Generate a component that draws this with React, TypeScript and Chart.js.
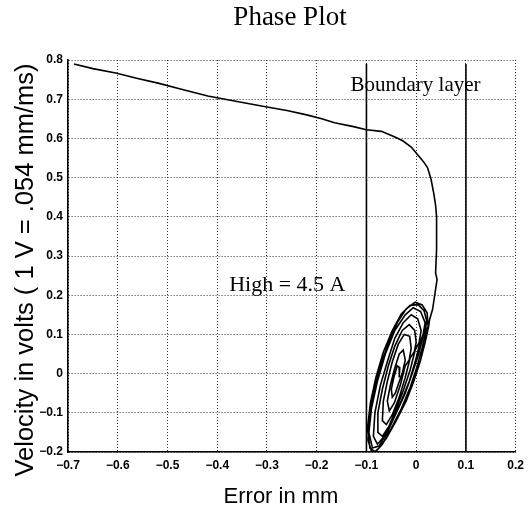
import { useEffect, useRef } from "react";
import { Chart, registerables } from "chart.js";

Chart.register(...registerables);

// ---- data ----
const xRange = [-0.7, 0.2];
const yRange = [-0.2, 0.8];
const tickStep = 0.1;

// approach trajectory from the initial condition into the boundary layer
const approach: [number, number][] = [
  [-0.688, 0.79], [-0.65, 0.778], [-0.604, 0.767], [-0.56, 0.753], [-0.519, 0.741],
  [-0.47, 0.725], [-0.419, 0.708], [-0.36, 0.694], [-0.3, 0.68], [-0.26, 0.671],
  [-0.22, 0.66], [-0.19, 0.65], [-0.164, 0.64], [-0.126, 0.63], [-0.1, 0.622],
  [-0.07, 0.618], [-0.045, 0.605], [-0.027, 0.594], [-0.01, 0.578], [0.003, 0.558],
  [0.015, 0.54], [0.023, 0.525], [0.03, 0.495], [0.035, 0.462], [0.039, 0.43],
  [0.041, 0.4], [0.041, 0.316], [0.039, 0.257], [0.042, 0.24], [0.039, 0.215],
  [0.033, 0.164], [0.027, 0.138],
];

// limit-cycle loops around the sliding surface
const loop1: [number, number][] = [
  [0.025, 0.12], [0.018, 0.08], [0.008, 0.03], [-0.005, -0.02], [-0.02, -0.07],
  [-0.04, -0.12], [-0.06, -0.165], [-0.075, -0.19], [-0.088, -0.205], [-0.097, -0.17],
  [-0.094, -0.11], [-0.085, -0.05], [-0.072, 0.02], [-0.055, 0.08], [-0.038, 0.13],
  [-0.02, 0.165], [-0.002, 0.182], [0.012, 0.175], [0.022, 0.155], [0.024, 0.12],
];
const loop1b: [number, number][] = [
  [0.02, 0.11], [0.012, 0.065], [0.001, 0.015], [-0.012, -0.035], [-0.03, -0.09],
  [-0.05, -0.14], [-0.068, -0.18], [-0.082, -0.2], [-0.093, -0.19], [-0.098, -0.14],
  [-0.092, -0.075], [-0.081, -0.01], [-0.066, 0.055], [-0.048, 0.11], [-0.03, 0.152],
  [-0.012, 0.174], [0.004, 0.176], [0.016, 0.16], [0.021, 0.135], [0.018, 0.105],
];
const loop2: [number, number][] = [
  [0.015, 0.1], [0.005, 0.05], [-0.008, 0.0], [-0.022, -0.05], [-0.04, -0.1],
  [-0.058, -0.15], [-0.075, -0.185], [-0.088, -0.19], [-0.095, -0.15], [-0.09, -0.09],
  [-0.078, -0.02], [-0.062, 0.05], [-0.043, 0.11], [-0.022, 0.15], [-0.006, 0.168],
  [0.009, 0.158], [0.018, 0.13], [0.014, 0.1],
];
const loop3: [number, number][] = [
  [0.008, 0.08], [-0.002, 0.03], [-0.014, -0.02], [-0.03, -0.07], [-0.048, -0.12],
  [-0.064, -0.16], [-0.078, -0.18], [-0.086, -0.16], [-0.083, -0.1], [-0.072, -0.03],
  [-0.058, 0.03], [-0.043, 0.09], [-0.026, 0.13], [-0.01, 0.15], [0.003, 0.14],
  [0.01, 0.11], [0.006, 0.08],
];
const loop4: [number, number][] = [
  [-0.002, 0.06], [-0.012, 0.01], [-0.025, -0.04], [-0.04, -0.09], [-0.055, -0.135],
  [-0.068, -0.16], [-0.077, -0.15], [-0.077, -0.1], [-0.068, -0.04], [-0.056, 0.02],
  [-0.043, 0.07], [-0.028, 0.11], [-0.014, 0.125], [-0.003, 0.11], [0.0, 0.08],
  [-0.004, 0.055],
];
const loop5: [number, number][] = [
  [-0.012, 0.04], [-0.022, -0.01], [-0.034, -0.06], [-0.048, -0.105], [-0.06, -0.13],
  [-0.068, -0.12], [-0.066, -0.07], [-0.058, -0.02], [-0.048, 0.03], [-0.036, 0.075],
  [-0.024, 0.1], [-0.013, 0.095], [-0.01, 0.065], [-0.014, 0.035],
];
const loop6: [number, number][] = [
  [-0.022, 0.02], [-0.032, -0.03], [-0.044, -0.075], [-0.054, -0.095], [-0.058, -0.07],
  [-0.052, -0.03], [-0.044, 0.01], [-0.034, 0.05], [-0.026, 0.06], [-0.022, 0.035],
  [-0.028, 0.0],
];
const loop7: [number, number][] = [
  [-0.034, -0.02], [-0.042, -0.05], [-0.048, -0.06], [-0.05, -0.04], [-0.045, -0.01],
  [-0.038, 0.02], [-0.033, 0.015], [-0.034, -0.01],
];

const boundaryX = [-0.1, 0.1];
const boundaryTop = 0.79;

const titleText = "Phase Plot";
const xTitle = "Error in mm";
const yTitle = "Velocity in volts ( 1 V = .054 mm/ms)";
const notes = [
  { text: "Boundary layer", x: -0.132, y: 0.72 },
  { text: "High = 4.5 A", x: -0.376, y: 0.21 },
];

const toPts = (arr: [number, number][]) => arr.map(([x, y]) => ({ x, y }));

const textPlugin = {
  id: "texts",
  afterDraw(chart: any) {
    const ctx = chart.ctx as CanvasRenderingContext2D;
    const xs = chart.scales.x;
    const ys = chart.scales.y;
    ctx.save();
    ctx.fillStyle = "#000";
    // title
    ctx.font = "27px 'Liberation Serif'";
    ctx.textAlign = "center";
    ctx.textBaseline = "alphabetic";
    ctx.fillText(titleText, 290, 25);
    // x title
    ctx.font = "22px 'Liberation Sans'";
    ctx.fillText(xTitle, 281, 503);
    // y title
    ctx.save();
    ctx.translate(33, 270);
    ctx.rotate(-Math.PI / 2);
    ctx.font = "25.5px 'Liberation Sans'";
    ctx.fillText(yTitle, 0, 0);
    ctx.restore();
    // annotations
    ctx.textAlign = "left";
    ctx.font = "21px 'Liberation Serif'";
    ctx.fillText(notes[0].text, xs.getPixelForValue(notes[0].x), ys.getPixelForValue(notes[0].y));
    ctx.font = "22px 'Liberation Serif'";
    ctx.fillText(notes[1].text, xs.getPixelForValue(notes[1].x), ys.getPixelForValue(notes[1].y));
    ctx.restore();
  },
};

export default function App() {
  const ref = useRef<HTMLCanvasElement>(null);
  useEffect(() => {
    document.body.style.margin = "0";
    const trajectory = [
      ...approach, ...loop1, ...loop1b, ...loop2, ...loop3, ...loop4, ...loop5, ...loop6, ...loop7,
    ];
    const tickFmt = (v: any) => {
      const n = Number(v);
      const r = Math.round(n * 10) / 10;
      if (r === 0) return "0";
      return String(r).replace("-", "\u2212");
    };
    const chart = new Chart(ref.current!, {
      type: "scatter",
      data: {
        datasets: [
          {
            data: toPts(trajectory),
            showLine: true,
            borderColor: "#000",
            borderWidth: 1.6,
            pointRadius: 0,
            tension: 0,
          },
          ...boundaryX.map((bx) => ({
            data: [
              { x: bx, y: yRange[0] },
              { x: bx, y: boundaryTop },
            ],
            showLine: true,
            borderColor: "#000",
            borderWidth: 1.6,
            pointRadius: 0,
          })),
        ],
      },
      options: {
        responsive: false,
        animation: false,
        events: [],
        layout: { padding: { top: 60, right: 11, left: 0, bottom: 0 } },
        plugins: { legend: { display: false }, tooltip: { enabled: false }, title: { display: false } },
        scales: {
          x: {
            type: "linear",
            min: xRange[0],
            max: xRange[1],
            afterFit: (s: any) => {
              s.height = 63;
            },
            ticks: {
              stepSize: tickStep,
              color: "#000",
              font: { family: "'Liberation Sans'", size: 12, weight: "bold" },
              padding: 6,
              maxRotation: 0,
              callback: tickFmt,
            },
            grid: { color: "rgba(0,0,0,0.8)", lineWidth: 1, drawTicks: false },
            border: { display: true, color: "#000", width: 1.6, dash: [1, 2] },
          },
          y: {
            type: "linear",
            min: yRange[0],
            max: yRange[1],
            afterFit: (s: any) => {
              s.width = 68;
            },
            ticks: {
              stepSize: tickStep,
              color: "#000",
              font: { family: "'Liberation Sans'", size: 12, weight: "bold" },
              padding: 5,
              callback: tickFmt,
            },
            grid: { color: "rgba(0,0,0,0.8)", lineWidth: 1, drawTicks: false },
            border: { display: true, color: "#000", width: 1.6, dash: [1, 2] },
          },
        },
      },
      plugins: [textPlugin],
    });
    return () => chart.destroy();
  }, []);
  return (
    <div style={{ width: 530, height: 515, background: "#fff" }}>
      <canvas ref={ref} width={530} height={515} style={{ display: "block" }} />
    </div>
  );
}
